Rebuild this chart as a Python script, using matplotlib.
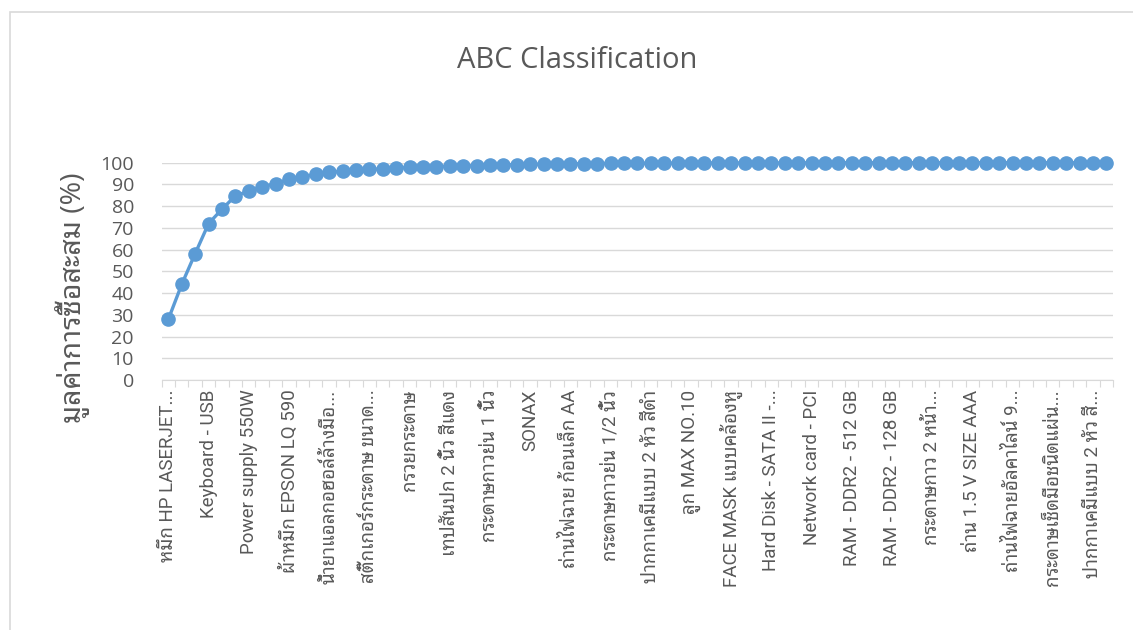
import numpy as np
import matplotlib
matplotlib.use("Agg")
import matplotlib.pyplot as plt
from matplotlib import font_manager, ft2font
from matplotlib.patches import Rectangle

# cumulative purchase value (%) per item, sorted descending (71 items)
cum_pct = [28.0, 44.1, 58.2, 72.0, 78.6, 84.8, 86.9, 88.9, 90.4, 92.3,
           93.5, 94.6, 95.5, 96.1, 96.6, 96.9, 97.2, 97.5, 97.8, 98.1,
           98.2, 98.4, 98.5, 98.7, 98.8, 99.0, 99.1, 99.2, 99.4, 99.5,
           99.5, 99.6, 99.6, 99.7, 99.7, 99.7, 99.8, 99.8, 99.8, 99.8,
           99.9, 99.9, 99.9, 99.9, 99.9, 99.9, 99.9, 99.9, 100.0, 100.0,
           100.0, 100.0, 100.0, 100.0, 100.0, 100.0, 100.0, 100.0, 100.0, 100.0,
           100.0, 100.0, 100.0, 100.0, 100.0, 100.0, 100.0, 100.0, 100.0, 100.0,
           100.0]

# only every third item name is shown on the axis
shown_labels = ["หมึก HP LASERJET...", "Keyboard - USB", "Power supply 550W",
                "ผ้าหมึก EPSON LQ 590", "น้ำยาแอลกอฮอล์ล้างมือ...",
                "สติ๊กเกอร์กระดาษ ขนาด...", "กรวยกระดาษ", "เทปสันปก 2 นิ้ว สีแดง",
                "กระดาษกาวย่น 1 นิ้ว", "SONAX", "ถ่านไฟฉาย ก้อนเล็ก AA",
                "กระดาษกาวย่น 1/2 นิ้ว", "ปากกาเคมีแบบ 2 หัว สีดำ", "ลูก MAX NO.10",
                "FACE MASK แบบคล้องหู", "Hard Disk - SATA II -...", "Network card - PCI",
                "RAM - DDR2 - 512 GB", "RAM - DDR2 - 128 GB", "กระดาษกาว 2 หน้า...",
                "ถ่าน 1.5 V SIZE AAA", "ถ่านไฟฉายอัลคาไลน์ 9...",
                "กระดาษเช็ดมือชนิดแผ่น...", "ปากกาเคมีแบบ 2 หัว สี..."]
label_step = 3

title = "ABC Classification"
ylabel = "มูลค่าการซื้อสะสม (%)"

# pick a family that has Thai glyphs
thai_fams = []
for f in font_manager.fontManager.ttflist:
    try:
        cm = ft2font.FT2Font(f.fname).get_charmap()
    except Exception:
        continue
    if 0x0E01 in cm and f.name not in thai_fams:
        thai_fams.append(f.name)
pref = ["Noto Sans Thai Looped", "Noto Sans Thai", "Loma"]
thai = ([p for p in pref if p in thai_fams] + thai_fams + ["DejaVu Sans"])[0]
plt.rcParams['font.family'] = ["Open Sans", thai, "DejaVu Sans"]
cat_fams = ["Roboto", thai, "DejaVu Sans"]

grey = "#595959"
blue = "#5B9BD5"

fig = plt.figure(figsize=(11.33, 6.3), dpi=100)
fig.patches.append(Rectangle((10 / 1133, -0.1), 1.2, 1.1 - 12 / 630, transform=fig.transFigure,
                             fill=False, edgecolor="#D9D9D9", lw=1.2))
ax = fig.add_axes([161.7 / 1133, 250 / 630, (1113 - 161.7) / 1133, (380 - 162.7) / 630])

x = np.arange(len(cum_pct))
ax.plot(x, cum_pct, color=blue, lw=2.4, marker="o", ms=9.5, clip_on=False, zorder=3)

ax.set_xlim(-0.5, len(cum_pct) - 0.5)
ax.set_ylim(0, 100)
ax.set_yticks(np.arange(0, 101, 10))
ax.yaxis.grid(True, color="#D9D9D9", lw=1)
ax.set_axisbelow(True)
ax.tick_params(axis="y", length=0, labelsize=14, labelcolor=grey, pad=20)

ax.set_xticks(np.arange(-0.5, len(cum_pct), 1))
ax.set_xticklabels([])
ax.tick_params(axis="x", which="major", length=5, color="#D9D9D9")
ax.set_xticks(x[::label_step][:len(shown_labels)], minor=True)
ax.set_xticklabels(shown_labels, minor=True, rotation=90, fontsize=13.5, color=grey,
                   family=cat_fams)
ax.tick_params(axis="x", which="minor", length=0, pad=7)

for s in ["top", "right", "left"]:
    ax.spines[s].set_visible(False)
ax.spines["bottom"].set_color("#D9D9D9")

fig.text(0.509, 1 - 60 / 630, title, ha="center", va="center", fontsize=21, color=grey)
fig.text(72 / 1133, 1 - 298 / 630, ylabel, rotation=90, ha="center", va="center",
         fontsize=20.5, color=grey)

fig.savefig("out.png", dpi=100)
